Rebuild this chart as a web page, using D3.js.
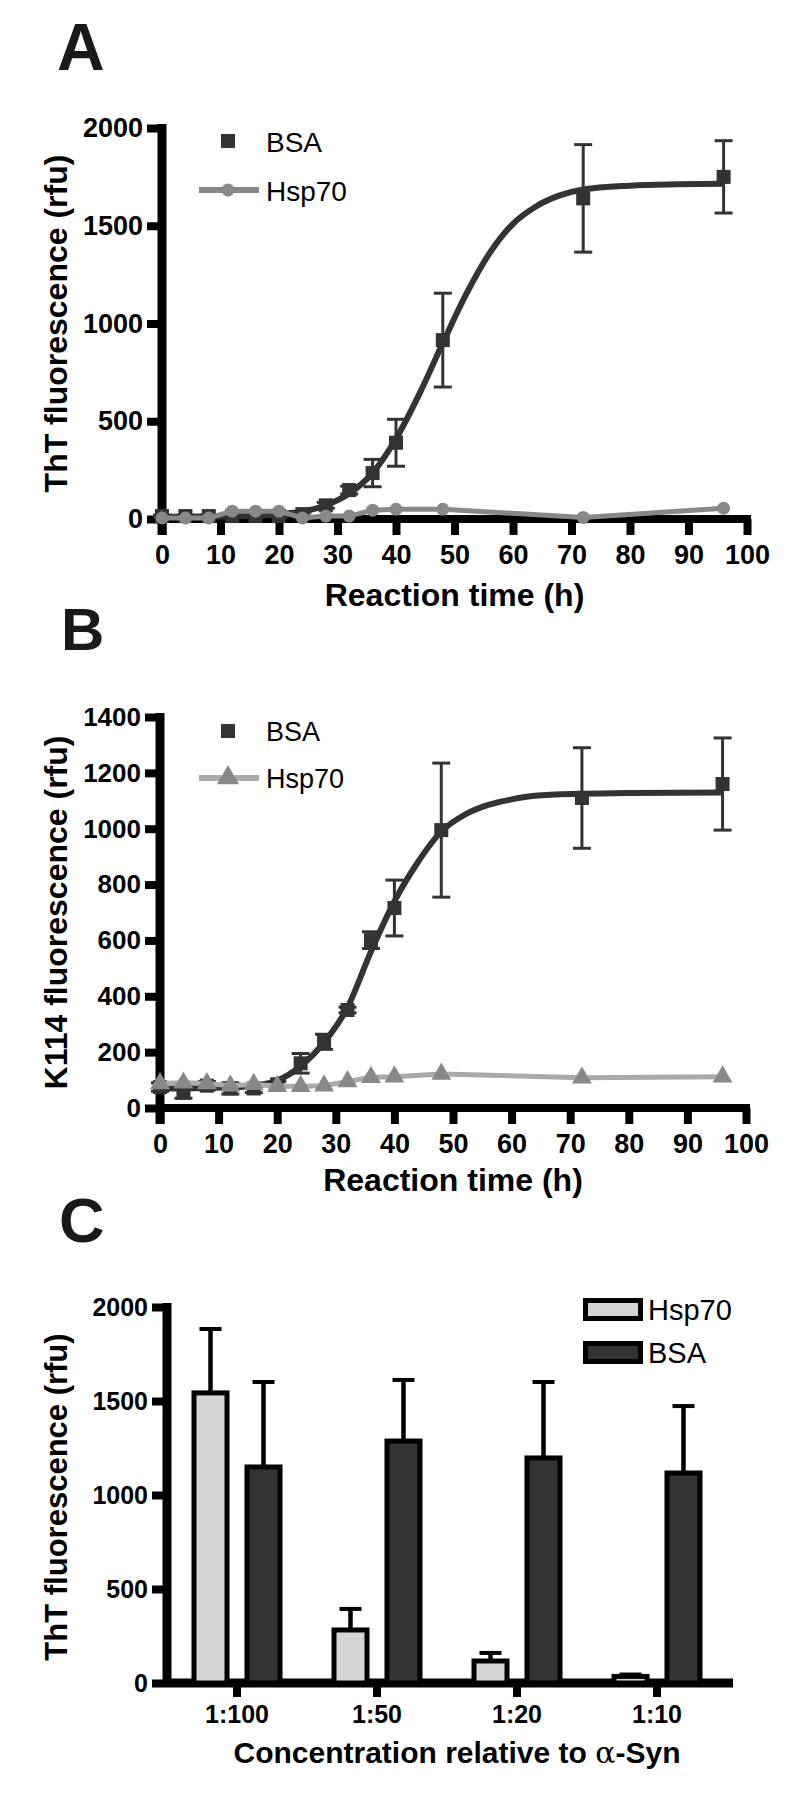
<!DOCTYPE html>
<html>
<head>
<meta charset="utf-8">
<script src="https://cdn.jsdelivr.net/npm/d3@7"></script>
<style>
  body { margin: 0; background: #fff; }
  svg { display: block; font-family: "Liberation Sans", Arial, sans-serif; }
</style>
</head>
<body>
<div id="main"></div>
<script>
const ctx = {
    w: 800,
    h: 1797,
};

// sampling times (h), panels A and B
const times = [0, 4, 8, 12, 16, 20, 24, 28, 32, 36, 40, 48, 72, 96];

// A : ThT fluorescence
const thtBsa    = [15, 15, 15, 15, 15, 15, 25, 70, 148, 235, 390, 915, 1640, 1750];
const thtBsaErr = [5, 5, 5, 5, 5, 5, 10, 15, 20, 70, 120, 240, 275, 185];
const thtHsp70  = [5, 5, 5, 40, 40, 40, 5, 15, 15, 45, 50, 50, 8, 55];
// fitted sigmoid
const thtFitT   = [0, 4, 8, 12, 16, 20, 24, 28, 32, 36, 40, 44, 48, 52, 56, 60, 64, 68, 72, 80, 88, 96];
const thtFitY   = [12, 12, 13, 14, 17, 24, 38, 70, 130, 235, 410, 640, 900, 1150, 1360, 1510, 1600, 1655, 1685, 1705, 1712, 1715];
const thtTicks  = [0, 500, 1000, 1500, 2000];

// B : K114 fluorescence
const kBsa    = [75, 55, 80, 70, 70, 85, 160, 237, 351, 601, 716, 995, 1110, 1160];
const kBsaErr = [15, 20, 15, 20, 15, 10, 35, 27, 10, 30, 100, 240, 180, 165];
const kHsp70  = [88, 90, 88, 80, 85, 78, 78, 80, 95, 110, 112, 122, 108, 112];
const kFitT   = [0, 4, 8, 12, 16, 20, 24, 28, 32, 36, 40, 44, 48, 52, 56, 60, 64, 72, 80, 96];
const kFitY   = [70, 70, 72, 74, 80, 98, 150, 235, 360, 560, 740, 880, 990, 1050, 1085, 1105, 1118, 1125, 1128, 1130];
const kTicks  = [0, 200, 400, 600, 800, 1000, 1200, 1400];

const timeTicks = [0, 10, 20, 30, 40, 50, 60, 70, 80, 90, 100];

// C : end point ThT vs ratio
const ratios     = ["1:100", "1:50", "1:20", "1:10"];
const endHsp70   = [1543, 282, 117, 35];
const endHsp70Er = [340, 112, 43, 10];
const endBsa     = [1149, 1287, 1197, 1117];
const endBsaEr   = [452, 325, 404, 356];
const endTicks   = [0, 500, 1000, 1500, 2000];

const BSA_COL = "#333333";
const HSP_COL = "#888888";

function styleAxis(g, fontSize) {
    g.attr("font-family", null).attr("font-size", null);
    g.select(".domain").remove();
    g.selectAll(".tick line").attr("stroke", "#000").attr("stroke-width", 8);
    g.selectAll(".tick text")
        .attr("fill", "#000")
        .attr("font-size", fontSize)
        .attr("font-weight", "bold");
}

function panelLetter(svgEl, txt, x, y, size) {
    svgEl.append("text").attr("x", x).attr("y", y)
        .attr("font-size", size).attr("font-weight", "bold").attr("fill", "#1a1a1a")
        .text(txt);
}

function yTitle(svgEl, txt, x, y, size) {
    svgEl.append("text")
        .attr("transform", `translate(${x},${y}) rotate(-90)`)
        .attr("text-anchor", "middle")
        .attr("font-size", size).attr("font-weight", "bold")
        .text(txt);
}

function timeAxes(g, x, y, yTicks, fs) {
    const x0 = x(0), y0 = y(0);
    const yTop = y(yTicks[yTicks.length - 1]);
    g.append("line").attr("x1", x0).attr("x2", x0).attr("y1", yTop - 4).attr("y2", y0 + 16)
        .attr("stroke", "#000").attr("stroke-width", 9);
    g.append("line").attr("x1", x0).attr("x2", x(100) + 4).attr("y1", y0).attr("y2", y0)
        .attr("stroke", "#000").attr("stroke-width", 8);

    const gy = g.append("g").attr("transform", `translate(${x0},0)`)
        .call(d3.axisLeft(y).tickValues(yTicks).tickSize(15).tickPadding(4).tickFormat(d3.format("d")));
    styleAxis(gy, fs);

    const gx = g.append("g").attr("transform", `translate(0,${y0})`)
        .call(d3.axisBottom(x).tickValues(timeTicks).tickSize(16).tickPadding(10).tickFormat(d3.format("d")));
    styleAxis(gx, 27);
}

function kinetics(svgEl, opt) {
    const g = svgEl.append("g");
    const x = d3.scaleLinear().domain([0, 100]).range(opt.xr);
    const y = d3.scaleLinear().domain([0, opt.ymax]).range(opt.yr);

    timeAxes(g, x, y, opt.ticks, opt.tickFs);

    const pts = times.map((t, i) => ({ t: t, m: opt.bsa[i], e: opt.err[i], h: opt.hsp[i] }));

    // BSA error bars
    const eb = g.append("g").attr("stroke", BSA_COL).attr("stroke-width", 3);
    pts.forEach(d => {
        eb.append("line").attr("x1", x(d.t)).attr("x2", x(d.t)).attr("y1", y(d.m - d.e)).attr("y2", y(d.m + d.e));
        [d.m - d.e, d.m + d.e].forEach(v => {
            eb.append("line").attr("x1", x(d.t) - 9).attr("x2", x(d.t) + 9).attr("y1", y(v)).attr("y2", y(v));
        });
    });

    // BSA fitted curve
    const fit = opt.fitT.map((t, i) => [t, opt.fitY[i]]);
    g.append("path").datum(fit)
        .attr("fill", "none").attr("stroke", BSA_COL).attr("stroke-width", 6)
        .attr("d", d3.line().x(d => x(d[0])).y(d => y(d[1])).curve(d3.curveMonotoneX));

    g.selectAll("rect.bsa").data(pts).enter().append("rect").attr("class", "bsa")
        .attr("x", d => x(d.t) - 7).attr("y", d => y(d.m) - 7)
        .attr("width", 14).attr("height", 14).attr("fill", BSA_COL);

    // Hsp70
    g.append("path").datum(pts)
        .attr("fill", "none").attr("stroke", opt.hspLine).attr("stroke-width", 5)
        .attr("d", d3.line().x(d => x(d.t)).y(d => y(d.h)));
    if (opt.marker === "circle") {
        g.selectAll("circle.hsp").data(pts).enter().append("circle")
            .attr("cx", d => x(d.t)).attr("cy", d => y(d.h)).attr("r", 6.5).attr("fill", HSP_COL);
    } else {
        g.selectAll("path.hsp").data(pts).enter().append("path").attr("class", "hsp")
            .attr("transform", d => `translate(${x(d.t)},${y(d.h)})`)
            .attr("d", d3.symbol(d3.symbolTriangle, 170)).attr("fill", HSP_COL);
    }

    // legend
    const L = opt.legend;
    g.append("rect").attr("x", 221).attr("y", L.y1 - 7).attr("width", 14).attr("height", 14).attr("fill", BSA_COL);
    g.append("text").attr("x", 266).attr("y", L.y1 + L.fs * 0.38).attr("font-size", L.fs).text("BSA");
    g.append("line").attr("x1", 199).attr("x2", 259).attr("y1", L.y2).attr("y2", L.y2)
        .attr("stroke", opt.hspLine).attr("stroke-width", 6);
    if (opt.marker === "circle") {
        g.append("circle").attr("cx", 228).attr("cy", L.y2).attr("r", 6.5).attr("fill", HSP_COL);
    } else {
        g.append("path").attr("transform", `translate(228,${L.y2})`)
            .attr("d", d3.symbol(d3.symbolTriangle, 210)).attr("fill", HSP_COL);
    }
    g.append("text").attr("x", 266).attr("y", L.y2 + L.fs * 0.38).attr("font-size", L.fs).text("Hsp70");

    // x title
    g.append("text").attr("x", (opt.xr[0] + opt.xr[1]) / 2).attr("y", opt.xTitleY)
        .attr("text-anchor", "middle").attr("font-size", 32).attr("font-weight", "bold")
        .text("Reaction time (h)");
    yTitle(svgEl, opt.yTitle, 67, (opt.yr[0] + opt.yr[1]) / 2, 32);
}

function barPanel(svgEl) {
    const g = svgEl.append("g");
    const x = d3.scaleBand().domain(ratios).range([167, 727]);
    const xs = d3.scaleBand().domain(["Hsp70", "BSA"]).range([-43, 43]).paddingInner(0.377);
    const y = d3.scaleLinear().domain([0, 2000]).range([1683, 1307]);
    const x0 = 167, y0 = y(0);

    g.append("line").attr("x1", x0).attr("x2", x0).attr("y1", y(2000) - 4).attr("y2", y0)
        .attr("stroke", "#000").attr("stroke-width", 9);
    g.append("line").attr("x1", x0).attr("x2", 733).attr("y1", y0).attr("y2", y0)
        .attr("stroke", "#000").attr("stroke-width", 9);

    const gy = g.append("g").attr("transform", `translate(${x0},0)`)
        .call(d3.axisLeft(y).tickValues(endTicks).tickSize(15).tickPadding(4).tickFormat(d3.format("d")));
    styleAxis(gy, 25);
    const gx = g.append("g").attr("transform", `translate(0,${y0})`)
        .call(d3.axisBottom(x).tickSize(14).tickPadding(8));
    styleAxis(gx, 25);

    const series = [
        { key: "Hsp70", vals: endHsp70, err: endHsp70Er, fill: "#d4d4d4" },
        { key: "BSA", vals: endBsa, err: endBsaEr, fill: "#333333" },
    ];
    series.forEach(s => {
        ratios.forEach((r, i) => {
            const cx = x(r) + x.bandwidth() / 2 + xs(s.key) + xs.bandwidth() / 2;
            const top = y(s.vals[i]);
            g.append("line").attr("x1", cx).attr("x2", cx).attr("y1", top).attr("y2", y(s.vals[i] + s.err[i]))
                .attr("stroke", "#000").attr("stroke-width", 4.5);
            g.append("line").attr("x1", cx - 11).attr("x2", cx + 11)
                .attr("y1", y(s.vals[i] + s.err[i])).attr("y2", y(s.vals[i] + s.err[i]))
                .attr("stroke", "#000").attr("stroke-width", 4);
            g.append("rect")
                .attr("x", x(r) + x.bandwidth() / 2 + xs(s.key)).attr("y", top)
                .attr("width", xs.bandwidth()).attr("height", y0 - top)
                .attr("fill", s.fill).attr("stroke", "#000").attr("stroke-width", 5);
        });
    });

    // legend
    series.forEach((s, i) => {
        g.append("rect").attr("x", 585.5).attr("y", 1300.5 + i * 43).attr("width", 55).attr("height", 18)
            .attr("fill", s.fill).attr("stroke", "#000").attr("stroke-width", 5);
        g.append("text").attr("x", 648).attr("y", 1320 + i * 43).attr("font-size", 29).text(s.key);
    });

    const t = g.append("text").attr("x", 457).attr("y", 1763)
        .attr("text-anchor", "middle").attr("font-size", 30).attr("font-weight", "bold");
    t.append("tspan").text("Concentration relative to ");
    t.append("tspan").attr("font-family", "'DejaVu Serif', serif").attr("font-weight", "normal").text("α");
    t.append("tspan").text("-Syn");

    yTitle(svgEl, "ThT fluorescence (rfu)", 67, 1497, 31);
}

function createViz() {
    const svgEl = d3.select("#main").append("svg")
        .attr("width", ctx.w)
        .attr("height", ctx.h);

    panelLetter(svgEl, "A", 57, 70, 66);
    kinetics(svgEl, {
        xr: [162, 747], yr: [519, 128], ymax: 2000, ticks: thtTicks, tickFs: 27,
        bsa: thtBsa, err: thtBsaErr, hsp: thtHsp70, fitT: thtFitT, fitY: thtFitY,
        marker: "circle", hspLine: "#888888",
        legend: { y1: 141, y2: 190, fs: 28 },
        xTitleY: 606, yTitle: "ThT fluorescence (rfu)",
    });

    panelLetter(svgEl, "B", 61, 650, 60);
    kinetics(svgEl, {
        xr: [160, 746], yr: [1108, 717], ymax: 1400, ticks: kTicks, tickFs: 26,
        bsa: kBsa, err: kBsaErr, hsp: kHsp70, fitT: kFitT, fitY: kFitY,
        marker: "triangle", hspLine: "#aaaaaa",
        legend: { y1: 731, y2: 778, fs: 27 },
        xTitleY: 1191, yTitle: "K114 fluorescence (rfu)",
    });

    panelLetter(svgEl, "C", 59, 1242, 63);
    barPanel(svgEl);
}

createViz();
</script>
</body>
</html>
